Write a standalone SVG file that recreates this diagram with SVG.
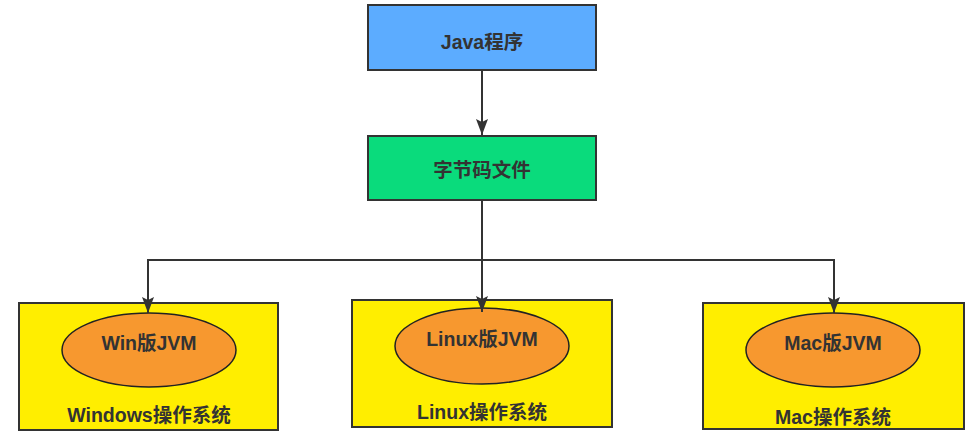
<svg xmlns="http://www.w3.org/2000/svg" width="978" height="441" viewBox="0 0 978 441">
<defs>
<marker id="arr" viewBox="0 0 16 12" refX="16" refY="6" markerWidth="16" markerHeight="12" markerUnits="userSpaceOnUse" orient="auto">
<path d="M0,0 L16,6 L0,12 L3,6 z" fill="#333"/>
</marker>
<style>
.box{stroke:#333;stroke-width:2}
.ell{fill:#F7982F;stroke:#222;stroke-width:1.5}
.t{font-family:"Liberation Sans","Noto Sans CJK SC",sans-serif;font-weight:bold;font-size:19.5px;fill:#333;text-anchor:middle;dominant-baseline:central}
.c{fill:none;stroke:#333;stroke-width:2}
</style>
</defs>
<rect width="978" height="441" fill="#fff"/>
<g id="java">
<rect class="box" x="368" y="5" width="228" height="65" fill="#5CACFF"/>
<text class="t" x="482" y="42">Java程序</text>
</g>
<g id="bytecode">
<rect class="box" x="368" y="136" width="228" height="64" fill="#0ADB7C"/>
<text class="t" x="482" y="170">字节码文件</text>
</g>
<g id="windows">
<rect class="box" x="19" y="303" width="259" height="127" fill="#FFEE00"/>
<ellipse class="ell" cx="149" cy="350" rx="87" ry="37"/>
<text class="t" x="149" y="343">Win版JVM</text>
<text class="t" x="149" y="415">Windows操作系统</text>
</g>
<g id="linux">
<rect class="box" x="352" y="300" width="260" height="127" fill="#FFEE00"/>
<ellipse class="ell" cx="482" cy="346" rx="87" ry="38"/>
<text class="t" x="482" y="339">Linux版JVM</text>
<text class="t" x="482" y="412">Linux操作系统</text>
</g>
<g id="mac">
<rect class="box" x="703" y="303" width="261" height="126" fill="#FFEE00"/>
<ellipse class="ell" cx="833" cy="350" rx="87" ry="37"/>
<text class="t" x="833" y="343">Mac版JVM</text>
<text class="t" x="833" y="417">Mac操作系统</text>
</g>
<g id="connectors">
<path class="c" d="M482,70 L482,135" marker-end="url(#arr)"/>
<path class="c" d="M482,200 L482,312" marker-end="url(#arr)"/>
<path class="c" d="M482,260 L148,260 L148,313" marker-end="url(#arr)"/>
<path class="c" d="M482,260 L834,260 L834,313" marker-end="url(#arr)"/>
</g>
</svg>
